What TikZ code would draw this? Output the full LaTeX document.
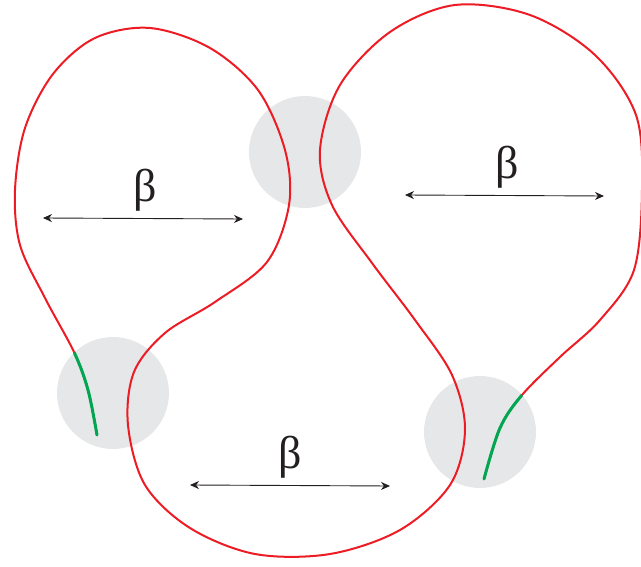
\documentclass[tikz,border=0pt]{standalone}
\usepackage{fontspec}
\setmainfont{Liberation Serif}
\usepackage{tikz}
\usetikzlibrary{arrows.meta,positioning}
\definecolor{loopred}{HTML}{ED1C24}
\definecolor{endgreen}{HTML}{00A651}
\definecolor{padgray}{HTML}{E6E7E8}
\definecolor{arrowdark}{HTML}{231F20}
\tikzset{
  pad/.style={circle,fill=padgray,minimum size=112pt,inner sep=0pt},
  loopline/.style={draw=loopred,line width=2pt,line cap=round},
  endline/.style={draw=endgreen,line width=3pt,line cap=round},
  widtharrow/.style={{Stealth[length=9pt,width=8pt]}-{Stealth[length=9pt,width=8pt]},
    draw=arrowdark,line width=0.9pt},
  betalabel/.style={font={\fontsize{46pt}{50pt}\selectfont},text=arrowdark,inner sep=0pt},
}
\newcommand\wirepath{plot[smooth,tension=0.55] coordinates {
  (97,435) (88,390) (74,352) (45,298) (20,245) (15,190) (25,128)
  (53,74) (95,38) (150,28) (210,48) (258,90) (285,150) (289,205)
  (267,262) (215,302) (165,333) (134,372) (128,425) (145,485)
  (190,528) (255,554) (330,554) (400,530) (450,485) (465,430)
  (452,375) (415,320) (372,263) (332,205) (320,150) (340,85)
  (390,32) (455,5) (530,15) (595,55) (636,115) (642,190) (634,270)
  (600,320) (560,357) (522,395) (500,428) (484,479)}}

\begin{document}
\begin{tikzpicture}[x=1pt,y=-1pt]
  \useasboundingbox (0,0) rectangle (641,567);
  % contact pads
  \node[pad] (padtop) at (305,152) {};
  \node[pad] (padleft) at (113,393) {};
  \node[pad] (padright) at (480,432) {};
  % the loop, green where its ends lie on the pads
  \draw[loopline] \wirepath;
  \begin{scope}
    \clip (padleft.center) circle[radius=56pt];
    \clip (0,330) rectangle (116,460);
    \draw[endline] \wirepath;
  \end{scope}
  \begin{scope}
    \clip (padright.center) circle[radius=56pt];
    \clip (472,370) rectangle (560,500);
    \draw[endline] \wirepath;
  \end{scope}
  % widths
  \coordinate (a1) at (43,218);
  \coordinate (b1) at (243,219);
  \coordinate (a2) at (405,195);
  \coordinate (b2) at (604,196);
  \coordinate (a3) at (190,485);
  \coordinate (b3) at (390,486);
  \draw[widtharrow] (a1) -- (b1);
  \draw[widtharrow] (a2) -- (b2);
  \draw[widtharrow] (a3) -- (b3);
  \node[betalabel] (beta1) at (145,190) {β};
  \node[betalabel] (beta2) at (507,167) {β};
  \node[betalabel] (beta3) at (290,457) {β};
\end{tikzpicture}
\end{document}
